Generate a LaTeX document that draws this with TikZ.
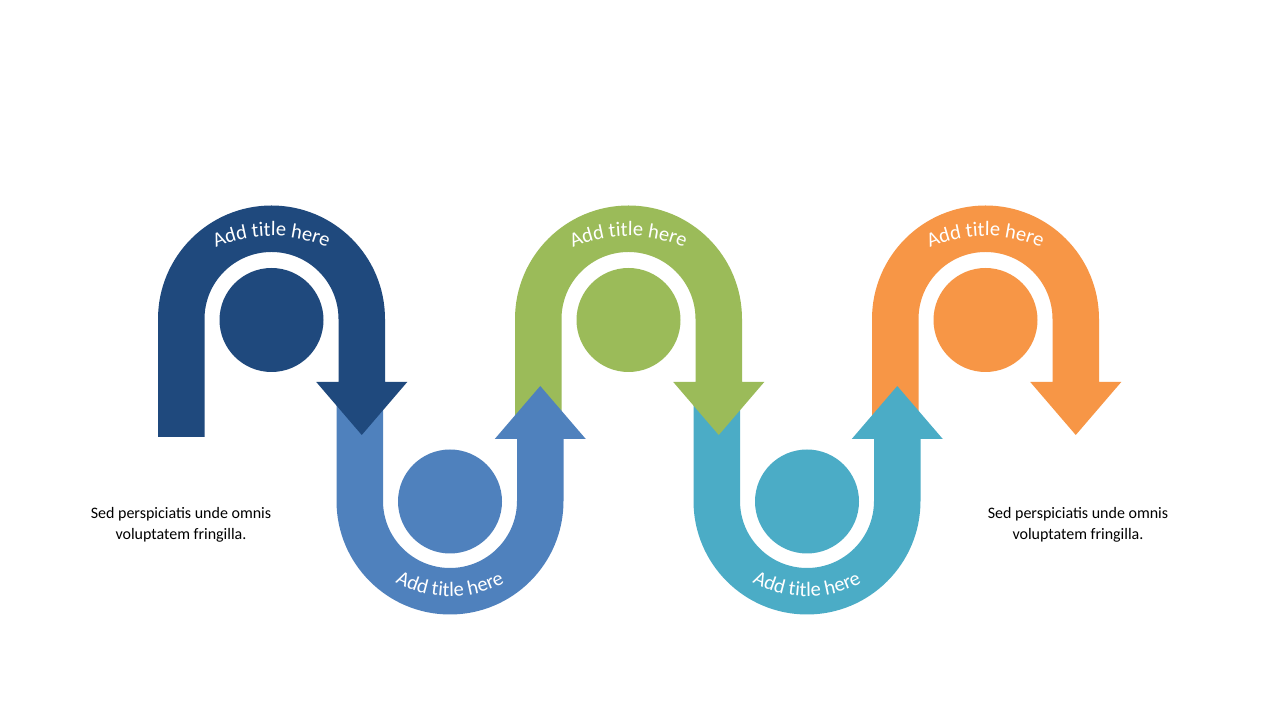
\documentclass[tikz,border=0pt]{standalone}
\usepackage{fontspec}
\setmainfont{Carlito}
\usetikzlibrary{decorations.text}
\definecolor{cDark}{HTML}{1F497D}
\definecolor{cBlue}{HTML}{4F81BD}
\definecolor{cGreen}{HTML}{9BBB59}
\definecolor{cCyan}{HTML}{4BACC6}
\definecolor{cOrange}{HTML}{F79646}
\tikzset{
  hub/.style={circle, fill=#1, draw=none, minimum size=104pt, inner sep=0pt},
  arctitle/.style={decorate, decoration={text along path,
     text={|\color{white}\fontsize{20.5}{24}\selectfont|Add title here}, text align=center}},
  note/.style={anchor=base, font=\fontsize{16}{21}\selectfont, text=black, inner sep=0pt}
}
\begin{document}
\begin{tikzpicture}[x=1pt,y=1pt]
\useasboundingbox[fill=white] (0,0) rectangle (1280,720);
% orange arch (back)
\begin{scope}[xshift=985.5pt]
\fill[cOrange] (-113.5,290) -- (-113.5,401) arc[start angle=180,end angle=0,radius=113.5] -- (113.5,338) -- (135.75,338) -- (90.25,285) -- (44.75,338) -- (67,338) -- (67,401) arc[start angle=0,end angle=180,radius=67] -- (-67,290) -- cycle;
\node[hub=cOrange] (h5) at (0,400) {};
\path[arctitle] (0,347) ++(130:137) arc[start angle=130,end angle=50,radius=137];
\end{scope}
% cyan U
\begin{scope}[xshift=807pt]
\fill[cCyan] (-113.5,330) -- (-113.5,219) arc[start angle=180,end angle=360,radius=113.5] -- (113.5,281) -- (135.75,281) -- (90.25,334) -- (44.75,281) -- (67,281) -- (67,219) arc[start angle=360,end angle=180,radius=67] -- (-67,330) -- cycle;
\node[hub=cCyan] (h4) at (0,218.5) {};
\path[arctitle] (0,238.5) ++(220:115) arc[start angle=220,end angle=320,radius=115];
\end{scope}
% green arch
\begin{scope}[xshift=628.5pt]
\fill[cGreen] (-113.5,290) -- (-113.5,401) arc[start angle=180,end angle=0,radius=113.5] -- (113.5,338) -- (135.75,338) -- (90.25,285) -- (44.75,338) -- (67,338) -- (67,401) arc[start angle=0,end angle=180,radius=67] -- (-67,290) -- cycle;
\node[hub=cGreen] (h3) at (0,400) {};
\path[arctitle] (0,347) ++(130:137) arc[start angle=130,end angle=50,radius=137];
\end{scope}
% blue U
\begin{scope}[xshift=450pt]
\fill[cBlue] (-113.5,330) -- (-113.5,219) arc[start angle=180,end angle=360,radius=113.5] -- (113.5,281) -- (135.75,281) -- (90.25,334) -- (44.75,281) -- (67,281) -- (67,219) arc[start angle=360,end angle=180,radius=67] -- (-67,330) -- cycle;
\node[hub=cBlue] (h2) at (0,218.5) {};
\path[arctitle] (0,238.5) ++(220:115) arc[start angle=220,end angle=320,radius=115];
\end{scope}
% dark blue arch (front)
\begin{scope}[xshift=271.5pt]
\fill[cDark] (-113.5,283) -- (-113.5,401) arc[start angle=180,end angle=0,radius=113.5] -- (113.5,338) -- (135.75,338) -- (90.25,285) -- (44.75,338) -- (67,338) -- (67,401) arc[start angle=0,end angle=180,radius=67] -- (-67,283) -- cycle;
\node[hub=cDark] (h1) at (0,400) {};
\path[arctitle] (0,347) ++(130:137) arc[start angle=130,end angle=50,radius=137];
\end{scope}
% side notes
\node[note] (l1) at (181,201) {Sed perspiciatis unde omnis};
\node[note] (l2) at (181,180) {voluptatem fringilla.};
\node[note] (r1) at (1078,201) {Sed perspiciatis unde omnis};
\node[note] (r2) at (1078,180) {voluptatem fringilla.};
\end{tikzpicture}
\end{document}
